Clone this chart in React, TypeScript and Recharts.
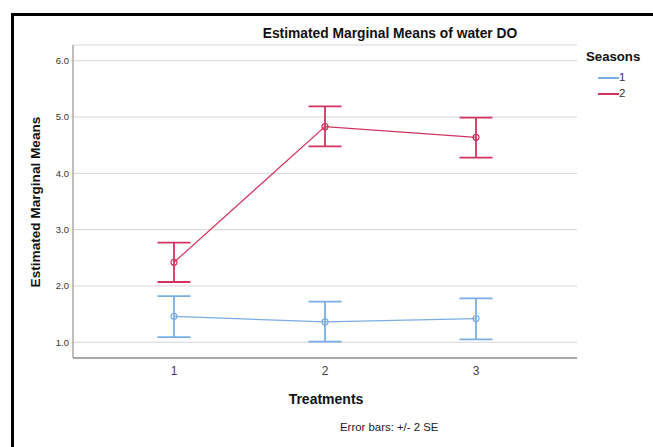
import React from "react";
import { LineChart, Line, XAxis, YAxis, CartesianGrid, ErrorBar } from "recharts";

const treatments = ["1", "2", "3"];
const season1Mean = [1.46, 1.36, 1.42];
const season1Low = [1.09, 1.01, 1.05];
const season1High = [1.82, 1.72, 1.78];
const season2Mean = [2.42, 4.83, 4.64];
const season2Low = [2.07, 4.48, 4.28];
const season2High = [2.77, 5.19, 4.99];
const yTicks = [1, 2, 3, 4, 5, 6];
const seasons = ["1", "2"];

const BLUE = "#7aaee2";
const RED = "#d2345f";
const seasonColors = [BLUE, RED];

const data = treatments.map((t, i) => ({
  treatment: t,
  s1: season1Mean[i],
  s1err: [season1Mean[i] - season1Low[i], season1High[i] - season1Mean[i]],
  s2: season2Mean[i],
  s2err: [season2Mean[i] - season2Low[i], season2High[i] - season2Mean[i]],
}));

const font = "'Liberation Sans', Arial, sans-serif";

const makeDot = (color: string) => (props: any) => {
  const { cx, cy, index } = props;
  return <circle key={index} cx={cx} cy={cy} r={3} fill="none" stroke={color} strokeWidth={1.2} />;
};

export default function App() {
  return (
    <div style={{ position: "absolute", left: 0, top: 0, width: 653, height: 447, overflow: "hidden", background: "#fff", fontFamily: font }}>
      <div style={{ position: "absolute", left: 11, top: 13, width: 680, height: 480, border: "3px solid #000", boxSizing: "border-box" }} />
      <div style={{ position: "absolute", left: 0, top: 0 }}>
        <LineChart width={653} height={447} data={data} margin={{ top: 45, right: 76, bottom: 59, left: 33 }}>
          <CartesianGrid vertical={false} stroke="#d6d6d6" strokeWidth={1} />
          <XAxis
            dataKey="treatment"
            type="category"
            padding={{ left: 101, right: 101 }}
            tickLine={false}
            axisLine={{ stroke: "#a8a8a8", strokeWidth: 2 }}
            tick={{ fill: "#444", fontSize: 12, fontFamily: font }}
            height={30}
          />
          <YAxis
            type="number"
            domain={[0.72, 6.28]}
            ticks={yTicks}
            allowDataOverflow
            width={40}
            tickLine={false}
            tickSize={2}
            tickMargin={2}
            tickFormatter={(v: number) => v.toFixed(1)}
            axisLine={{ stroke: "#a8a8a8", strokeWidth: 1.5 }}
            tick={{ fill: "#333", fontSize: 9.5, fontFamily: font }}
          />
          <Line
            dataKey="s1"
            stroke={BLUE}
            strokeWidth={1.2}
            isAnimationActive={false}
            dot={makeDot(BLUE)}
            activeDot={false}
          >
            <ErrorBar dataKey="s1err" width={16.5} stroke={BLUE} strokeWidth={1.8} direction="y" isAnimationActive={false} />
          </Line>
          <Line
            dataKey="s2"
            stroke={RED}
            strokeWidth={1.2}
            isAnimationActive={false}
            dot={makeDot(RED)}
            activeDot={false}
          >
            <ErrorBar dataKey="s2err" width={16.5} stroke={RED} strokeWidth={1.8} direction="y" isAnimationActive={false} />
          </Line>
        </LineChart>
      </div>
      <div style={{ position: "absolute", left: 190, width: 400, top: 26, textAlign: "center", fontSize: 13.8, fontWeight: "bold", color: "#111", lineHeight: "16px", whiteSpace: "nowrap" }}>
        Estimated Marginal Means of water DO
      </div>
      <div style={{ position: "absolute", left: 36, top: 202, width: 0, height: 0 }}>
        <div style={{ position: "absolute", left: -150, top: -8, width: 300, textAlign: "center", transform: "rotate(-90deg)", fontSize: 13.6, fontWeight: "bold", color: "#111", lineHeight: "16px", whiteSpace: "nowrap" }}>
          Estimated Marginal Means
        </div>
      </div>
      <div style={{ position: "absolute", left: 226, width: 200, top: 391, textAlign: "center", fontSize: 14, fontWeight: "bold", color: "#111", lineHeight: "16px" }}>
        Treatments
      </div>
      <div style={{ position: "absolute", left: 340, top: 420, fontSize: 11.4, color: "#222", lineHeight: "14px", whiteSpace: "nowrap" }}>
        Error bars: +/- 2 SE
      </div>
      <div style={{ position: "absolute", left: 586, top: 49, fontSize: 13.2, fontWeight: "bold", color: "#111", lineHeight: "16px" }}>
        Seasons
      </div>
      {seasons.map((s, i) => (
        <React.Fragment key={s}>
          <div style={{ position: "absolute", left: 598, top: 77 + i * 16, width: 21, height: 1.5, background: seasonColors[i] }} />
          <div style={{ position: "absolute", left: 619, top: 70 + i * 16, fontSize: 11.5, color: "#333", lineHeight: "14px" }}>{s}</div>
        </React.Fragment>
      ))}
    </div>
  );
}
